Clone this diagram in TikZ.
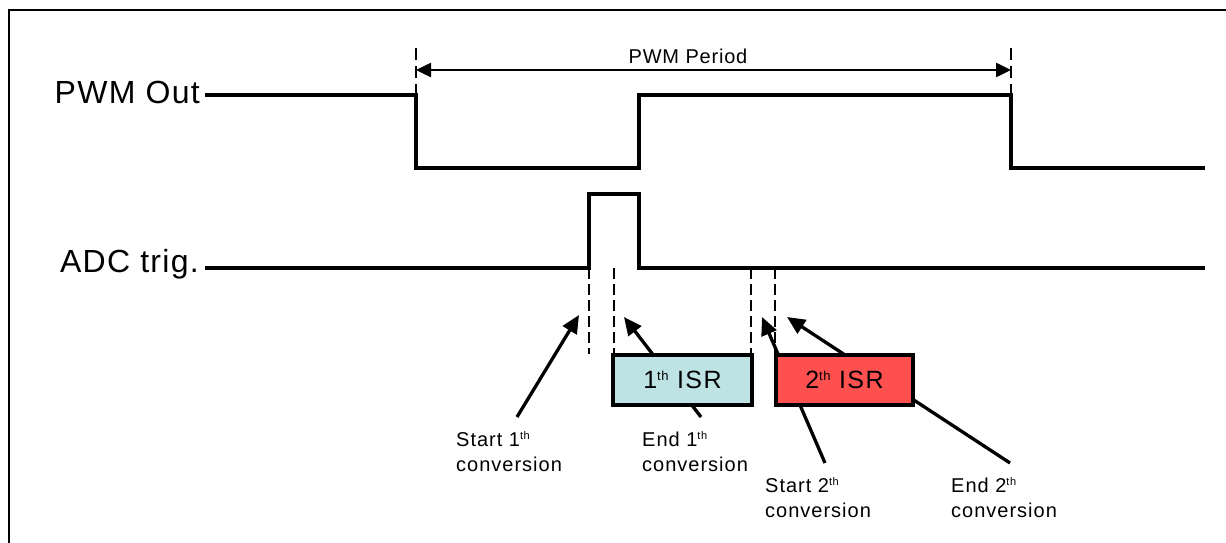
\documentclass[tikz,border=0pt]{standalone}
\usepackage{fontspec}
\setmainfont{Liberation Sans}
\usetikzlibrary{arrows.meta}
\definecolor{isrblue}{RGB}{189,227,229}
\definecolor{isrred}{RGB}{255,80,80}
\newcommand\supthS{\raisebox{7pt}{\fontsize{11}{11}\selectfont t\kern0.5pt h}}
\newcommand\supthB{\raisebox{8.5pt}{\fontsize{13}{13}\selectfont t\kern0.5pt h}}
\begin{document}
\begin{tikzpicture}[x=1pt,y=-1pt,
  wave/.style={line width=3.3pt},
  dashline/.style={line width=2pt,dash pattern=on 11pt off 5pt},
  tick/.style={line width=2.5pt,dash pattern=on 12pt off 6pt},
  callout/.style={line width=3.3pt,-{Triangle[length=18pt,width=16pt]}},
  sig/.style={font=\fontsize{32}{32}\selectfont\addfontfeature{LetterSpace=4}, inner sep=0pt},
  lbl/.style={font=\fontsize{20}{25}\selectfont\addfontfeature{LetterSpace=5}, align=left, inner sep=0pt},
  isr/.style={draw, line width=3.3pt, minimum width=139pt, minimum height=50pt, inner sep=0pt,
    font=\fontsize{25}{25}\selectfont\addfontfeature{LetterSpace=6}}]
\useasboundingbox (0,0) rectangle (1226,543);
\clip (0,0) rectangle (1226,543);
% frame
\draw[line width=2pt] (1240,10) -| (9,560);
% signal labels
\node[sig, anchor=base east] (pwm) at (200,103) {PWM Out};
\node[sig, anchor=base east] (adc) at (199,272) {ADC trig.};
% PWM waveform
\coordinate (p0) at (205,95);
\coordinate (p1) at (416,95);
\coordinate (p2) at (416,168);
\coordinate (p3) at (639,168);
\coordinate (p4) at (639,95);
\coordinate (p5) at (1011,95);
\coordinate (p6) at (1011,168);
\coordinate (p7) at (1205,168);
\draw[wave] (p0) -- (p1) -- (p2) -- (p3) -- (p4) -- (p5) -- (p6) -- (p7);
% period
\coordinate (t1) at (416,48);
\coordinate (t2) at (1011,48);
\coordinate (a1) at (416,70);
\coordinate (a2) at (1011,70);
\draw[tick] (t1) -- (p1);
\draw[tick] (t2) -- (p5);
\draw[line width=2.5pt,{Triangle[length=15pt,width=14pt]}-{Triangle[length=15pt,width=14pt]}] (a1) -- (a2);
\node[font=\fontsize{20}{20}\selectfont\addfontfeature{LetterSpace=4}] (per) at (688,56) {PWM Period};
% ADC waveform
\coordinate (q0) at (205,268);
\coordinate (q1) at (589,268);
\coordinate (q2) at (589,194);
\coordinate (q3) at (639,194);
\coordinate (q4) at (639,268);
\coordinate (q5) at (1205,268);
\draw[wave] (q0) -- (q1) -- (q2) -- (q3) -- (q4) -- (q5);
% dashed markers
\coordinate (d1a) at (589,268); \coordinate (d1b) at (589,354);
\coordinate (d2a) at (614,268); \coordinate (d2b) at (614,354);
\coordinate (d3a) at (751,268); \coordinate (d3b) at (751,354);
\coordinate (d4a) at (775,268); \coordinate (d4b) at (775,354);
\draw[dashline] (d1a) -- (d1b);
\draw[dashline] (d2a) -- (d2b);
\draw[dashline] (d3a) -- (d3b);
\draw[dashline] (d4a) -- (d4b);
% labels (base anchor = baseline of last line)
\node[lbl, anchor=base west] (s1) at (456,471) {Start 1\supthS\\conversion};
\node[lbl, anchor=base west] (e1) at (642,471) {End 1\supthS\\conversion};
\node[lbl, anchor=base west] (s2) at (765,517) {Start 2\supthS\\conversion};
\node[lbl, anchor=base west] (e2) at (951,517) {End 2\supthS\\conversion};
% callout arrows
\coordinate (s1f) at (517,417); \coordinate (s1t) at (579,315);
\coordinate (e1f) at (701,417); \coordinate (e1t) at (624,317);
\coordinate (s2f) at (825,463); \coordinate (s2t) at (762,317);
\coordinate (e2f) at (1010,463); \coordinate (e2t) at (787,317);
\draw[callout] (s1f) -- (s1t);
\draw[callout] (e1f) -- (e1t);
\draw[callout] (s2f) -- (s2t);
\draw[callout] (e2f) -- (e2t);
% ISR boxes
\node[isr, fill=isrblue] (isr1) at (682.5,380) {1\supthB\ ISR};
\node[isr, fill=isrred, minimum width=137pt] (isr2) at (844.5,380) {2\supthB\ ISR};
\end{tikzpicture}
\end{document}
